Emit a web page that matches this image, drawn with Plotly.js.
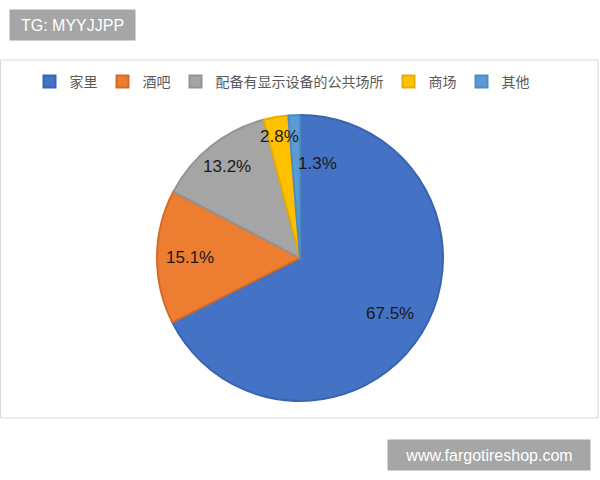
<!DOCTYPE html>
<html>
<head>
<meta charset="utf-8">
<script src="https://cdn.plot.ly/plotly-3.0.1.min.js"></script>
<style>
body { margin: 0; padding: 0; background: #ffffff; }
#tgtDraw { width: 600px; height: 480px; }
</style>
</head>
<body>
<div id="tgtDraw"></div>
<script>
// places where people watch
var places = ["家里", "酒吧", "配备有显示设备的公共场所", "商场", "其他"];
var shares = [67.5, 15.1, 13.2, 2.8, 1.3];
var sliceColors = ["#4472C4", "#ED7D31", "#A5A5A5", "#FFC000", "#5B9BD5"];
var edgeColors = ["#3b64b0", "#d46c27", "#939393", "#e6ad00", "#4f8bc2"];

// where each data label sits, as a part of the radius (Excel style)
var labelRadius = [0.74, 0.77, 0.82, 0.86, 0.66];
var labelAnchor = ["center", "center", "center", "center", "left"];

var W = 600, H = 480;
var pieDom = { x: [157/W, 443/W], y: [1 - 401/H, 1 - 115/H] };

function label_notes()
{
	var cx = (pieDom.x[0] + pieDom.x[1]) / 2;
	var cy = (pieDom.y[0] + pieDom.y[1]) / 2;
	var r = (pieDom.x[1] - pieDom.x[0]) * W / 2;
	var total = 0;
	for (var i = 0; i < shares.length; i++) total += shares[i];

	var notes = [];
	var acc = 0;
	for (var i = 0; i < shares.length; i++)
	{
		var mid = (acc + shares[i] / 2) / total * 2 * Math.PI;
		acc += shares[i];
		notes.push({
			text: shares[i].toFixed(1) + '%',
			xref: 'paper', yref: 'paper',
			x: cx + r * labelRadius[i] * Math.sin(mid) / W,
			y: cy + r * labelRadius[i] * Math.cos(mid) / H,
			xanchor: labelAnchor[i], yanchor: 'middle',
			showarrow: false,
			font: { family: 'Liberation Sans, Arial, sans-serif', size: 17, color: '#1a1a1a' }
		});
	}
	return notes;
}

function draw_pie()
{
	var trace = {
		type: 'pie',
		labels: places,
		values: shares,
		sort: false,
		direction: 'clockwise',
		rotation: 0,
		textinfo: 'none',
		marker: { colors: sliceColors, line: { color: edgeColors, width: 2 } },
		hoverinfo: 'none',
		domain: pieDom
	};

	var notes = label_notes();
	notes.push({ text: 'TG: MYYJJPP', xref: 'paper', yref: 'paper', x: 72.5/W, y: 1 - 25/H,
		xanchor: 'center', yanchor: 'middle', showarrow: false, bgcolor: '#a6a6a6',
		width: 125, height: 30, borderpad: 0,
		font: { family: 'Liberation Sans, Arial, sans-serif', size: 16, color: '#ffffff' } });
	notes.push({ text: 'www.fargotireshop.com', xref: 'paper', yref: 'paper', x: 489/W, y: 1 - 455/H,
		xanchor: 'center', yanchor: 'middle', showarrow: false, bgcolor: '#a6a6a6',
		width: 202, height: 30, borderpad: 0,
		font: { family: 'Liberation Sans, Arial, sans-serif', size: 16, color: '#ffffff' } });

	var layout = {
		width: W,
		height: H,
		margin: { l: 0, r: 0, t: 0, b: 0 },
		paper_bgcolor: '#ffffff',
		showlegend: true,
		legend: {
			orientation: 'h',
			x: 0.47,
			xanchor: 'center',
			y: 1 - 82/H,
			yanchor: 'middle',
			font: { family: 'Noto Sans CJK SC, sans-serif', size: 14, color: '#595959' }
		},
		shapes: [
			{ type: 'rect', xref: 'paper', yref: 'paper', x0: 0.5/W, x1: 598/W, y0: 1 - 418/H, y1: 1 - 60/H,
			  line: { color: '#d9d9d9', width: 1 }, fillcolor: 'rgba(0,0,0,0)' }
		],
		annotations: notes
	};

	Plotly.newPlot('tgtDraw', [trace], layout, { displayModeBar: false, staticPlot: true });
}

draw_pie();
</script>
</body>
</html>
